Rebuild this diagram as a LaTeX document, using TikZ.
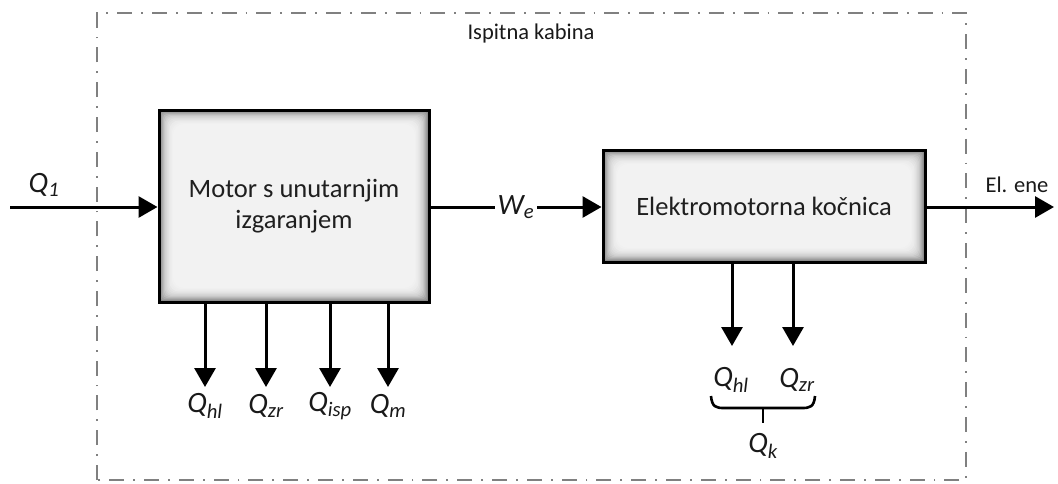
\documentclass[tikz,border=0pt]{standalone}
\usepackage{fontspec}
\setmainfont{Carlito}
\usetikzlibrary{arrows.meta,backgrounds}
\tikzset{
  flow/.style={line width=3pt,-{Triangle[length=19pt,width=21pt]}},
  plain/.style={line width=2.6pt},
  blockbox/.style={draw=black,line width=3pt,align=center,font=\fontsize{26.5}{31}\selectfont,inner sep=0pt,text=black!88},
  qlabel/.style={font=\fontsize{29.5}{32}\selectfont\itshape,inner sep=1pt,text=black!90},
  border/.style={draw=black!50,line width=1.8pt,dash pattern=on 15pt off 9pt on 1.8pt off 9pt},
  title/.style={font=\fontsize{22.5}{26}\selectfont,text=black!90},
}
\newcommand{\glow}[1]{%
  \begin{scope}[on background layer]
    \foreach \i/\c in {0/62,1/54,2/46,3/39,4/33,5/27,6/22,7/18,8/15,9/12,10/10,11/8,12/7,13/6,14/5} {
      \fill[black!\c,rounded corners=\i*0.8pt] ([shift={(\i*1.1,\i*1.1)}]#1.north west) rectangle ([shift={(-\i*1.1,-\i*1.1)}]#1.south east);
    }
  \end{scope}}
\begin{document}
\begin{tikzpicture}[x=1pt,y=-1pt]
\useasboundingbox (0,0) rectangle (1058,483);
\draw[border] (97,480) -- (97,13) -- (966,13) -- (966,480) -- cycle;
\node[title] (cab) at (531,33) {Ispitna kabina};
\node[blockbox,minimum width=270pt,minimum height=192pt] (mot) at (294,206) {Motor s unutarnjim\\izgaranjem};
\node[blockbox,minimum width=322pt,minimum height=112pt] (koc) at (764,206) {Elektromotorna kočnica};
\glow{mot}
\glow{koc}
% input
\coordinate (in) at (10,207);
\node[qlabel] (q1) at (44,185) {Q\textsubscript{1}};
\draw[flow] (in) -- (mot.west |- in);
% W_e
\draw[flow] (mot.east |- in) -- node[qlabel,fill=white,inner sep=3pt] (we) {W\textsubscript{e}} (koc.west |- in);
% output
\coordinate (out) at (1054,207);
\draw[flow] (koc.east |- in) -- (out);
\node[title,anchor=west] (el) at (982,185) {El. ene};
% motor losses
\foreach \x/\n/\t in {205/hl/hl,266/zr/zr,330/isp/isp,388/m/m} {
  \node[qlabel] (m\n) at (\x,406) {Q\textsubscript{\t}};
  \coordinate (me\n) at (\x,387);
  \draw[flow] (mot.south -| me\n) -- (me\n);
}
% brake losses
\foreach \x/\n/\t in {732/hl/hl,793/zr/zr} {
  \coordinate (ke\n) at (\x,346);
  \draw[flow] (koc.south -| ke\n) -- (ke\n);
}
\node[qlabel] (khl) at (731,380) {Q\textsubscript{hl}};
\node[qlabel] (kzr) at (797,380) {Q\textsubscript{zr}};
% brace
\coordinate (bl) at (711,396);
\coordinate (br) at (815,396);
\coordinate (bm) at (763,408);
\coordinate (bt) at (763,423);
\draw[plain] (bl) .. controls (712,407) and (716,408) .. (724,408) -- (802,408) .. controls (810,408) and (814,407) .. (br);
\draw[plain] (bm) -- (bt);
\node[qlabel] (qk) at (763,446) {Q\textsubscript{k}};
\end{tikzpicture}
\end{document}
